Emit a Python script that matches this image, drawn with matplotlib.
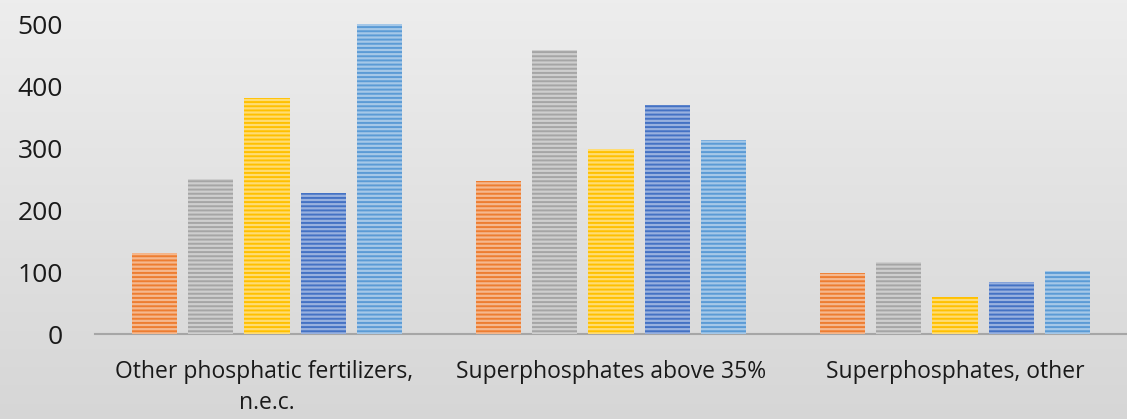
import numpy as np
import matplotlib
matplotlib.use('Agg')
import matplotlib.pyplot as plt
from matplotlib.colors import to_rgb

categories = ['Other phosphatic fertilizers, \nn.e.c.', 'Superphosphates above 35%', 'Superphosphates, other']
s1 = [130, 247, 98]
s2 = [250, 458, 116]
s3 = [381, 298, 60]
s4 = [227, 369, 84]
s5 = [500, 313, 102]
series = [s1, s2, s3, s4, s5]
colors = ['#ED7D31', '#A5A5A5', '#FFC000', '#4472C4', '#5B9BD5']
yticks = [0, 100, 200, 300, 400, 500]

plt.rcParams['font.family'] = ['Open Sans', 'DejaVu Sans']
plt.rcParams['hatch.linewidth'] = 1.4

W, H = 1127, 419
fig = plt.figure(figsize=(W / 100, H / 100), dpi=100)

# background gradient
bg = fig.add_axes([0, 0, 1, 1], zorder=-10)
grad = np.linspace(0.93, 0.84, 200).reshape(-1, 1)
bg.imshow(np.dstack([grad, grad, grad]), aspect='auto', extent=[0, 1, 0, 1])
bg.axis('off')

ax = fig.add_axes([95 / W, (H - 334) / H, 1032 / W, 334 / H])
ax.set_facecolor('none')
px_per_unit = 0.62
ax.set_ylim(0, 334 / px_per_unit)
ax.set_xlim(-0.5, len(categories) - 0.5)

x = np.arange(len(categories))
step = 0.163
width = 0.131
for i, (vals, c) in enumerate(zip(series, colors)):
    base = np.array(to_rgb(c))
    light = base + (1 - base) * 0.45
    ax.bar(x + (i - 2) * step, vals, width, color=light, edgecolor=c,
           hatch='----', linewidth=0, zorder=3)

ax.set_yticks(yticks)
ax.set_yticklabels([str(v) for v in yticks])
ax.set_xticks(x)
ax.set_xticklabels(categories, linespacing=1.35)
ax.tick_params(axis='both', length=0, colors='#1a1a1a')
ax.tick_params(axis='y', pad=23, labelsize=19)
ax.tick_params(axis='x', pad=19, labelsize=16.5)
for sp in ['top', 'right', 'left']:
    ax.spines[sp].set_visible(False)
ax.spines['bottom'].set_color('#a6a6a6')
ax.spines['bottom'].set_linewidth(1.5)

fig.savefig('out.png', dpi=100)
